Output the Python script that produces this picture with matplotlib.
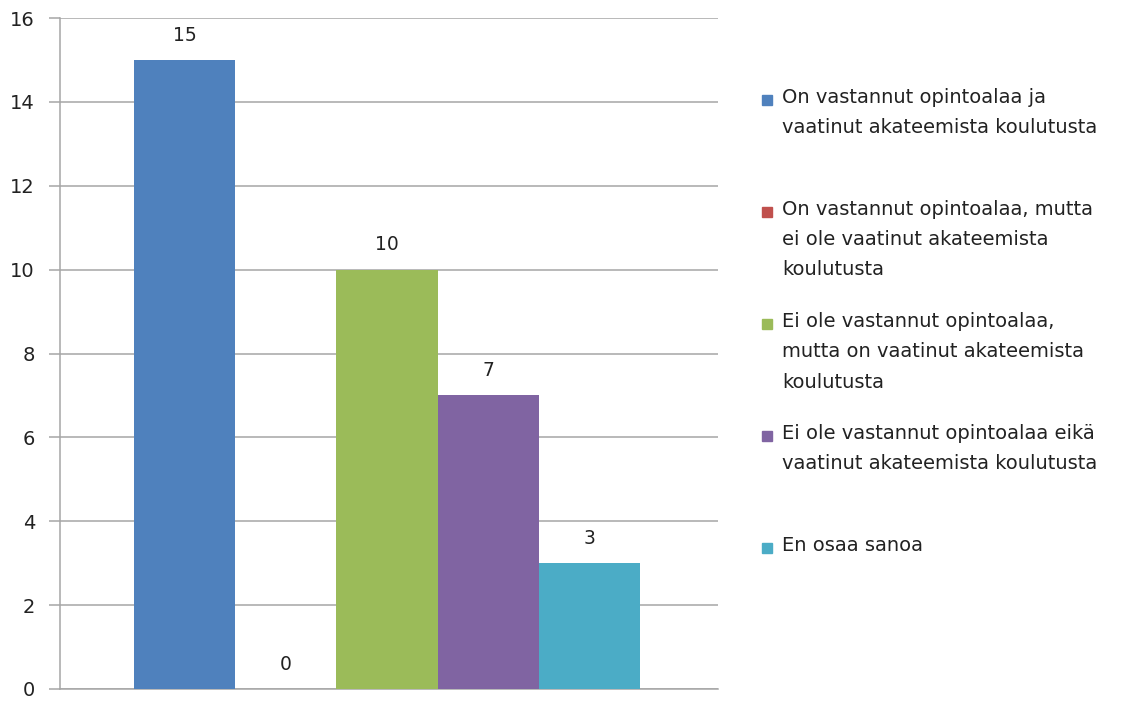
import matplotlib.pyplot as plt
import matplotlib.patches as mpatches

CATEGORIES = [
    "On vastannut opintoalaa ja\nvaatinut akateemista koulutusta",
    "On vastannut opintoalaa, mutta\nei ole vaatinut akateemista\nkoulutusta",
    "Ei ole vastannut opintoalaa,\nmutta on vaatinut akateemista\nkoulutusta",
    "Ei ole vastannut opintoalaa eikä\nvaatinut akateemista koulutusta",
    "En osaa sanoa",
]
VALUES = [15, 0, 10, 7, 3]
COLORS = ["#4F81BD", "#C0504D", "#9BBB59", "#8064A2", "#4BACC6"]
Y_TICKS = [0, 2, 4, 6, 8, 10, 12, 14, 16]

W, H = 1136, 702
fig = plt.figure(figsize=(W / 100, H / 100), dpi=100)
ax = fig.add_axes([60 / W, 1 - 689 / H, (718 - 60) / W, (689 - 18) / H])

x = list(range(len(VALUES)))
ax.bar(x, VALUES, width=1.0, color=COLORS, zorder=3)
for xi, v in zip(x, VALUES):
    ax.annotate(str(v), (xi, v), xytext=(0, 11), textcoords="offset points",
                ha="center", va="bottom", fontsize=13.5, color="#222222")

ax.set_xlim(-1.23, 5.27)
ax.set_ylim(0, 16)
ax.set_yticks(Y_TICKS)
ax.set_xticks([])
ax.grid(axis="y", color="#a6a6a6", linewidth=1.1, zorder=0)
for s in ["top", "right"]:
    ax.spines[s].set_visible(False)
for s in ["left", "bottom"]:
    ax.spines[s].set_color("#a6a6a6")
    ax.spines[s].set_linewidth(1.1)
ax.tick_params(axis="y", length=8, color="#a6a6a6", width=1.1,
               labelsize=14, labelcolor="#222222", pad=10)

# legend drawn by hand, entries evenly spaced
for i, (lab, col) in enumerate(zip(CATEGORIES, COLORS)):
    yc = 100 + i * 112
    fig.patches.append(mpatches.Rectangle(
        (762 / W, 1 - (yc + 5) / H), 10 / W, 10 / H,
        color=col, transform=fig.transFigure, figure=fig))
    fig.text(782 / W, 1 - (yc - 12) / H, lab, ha="left", va="top",
             fontsize=14, color="#222222", linespacing=1.75)

fig.savefig("out.png", dpi=100)
